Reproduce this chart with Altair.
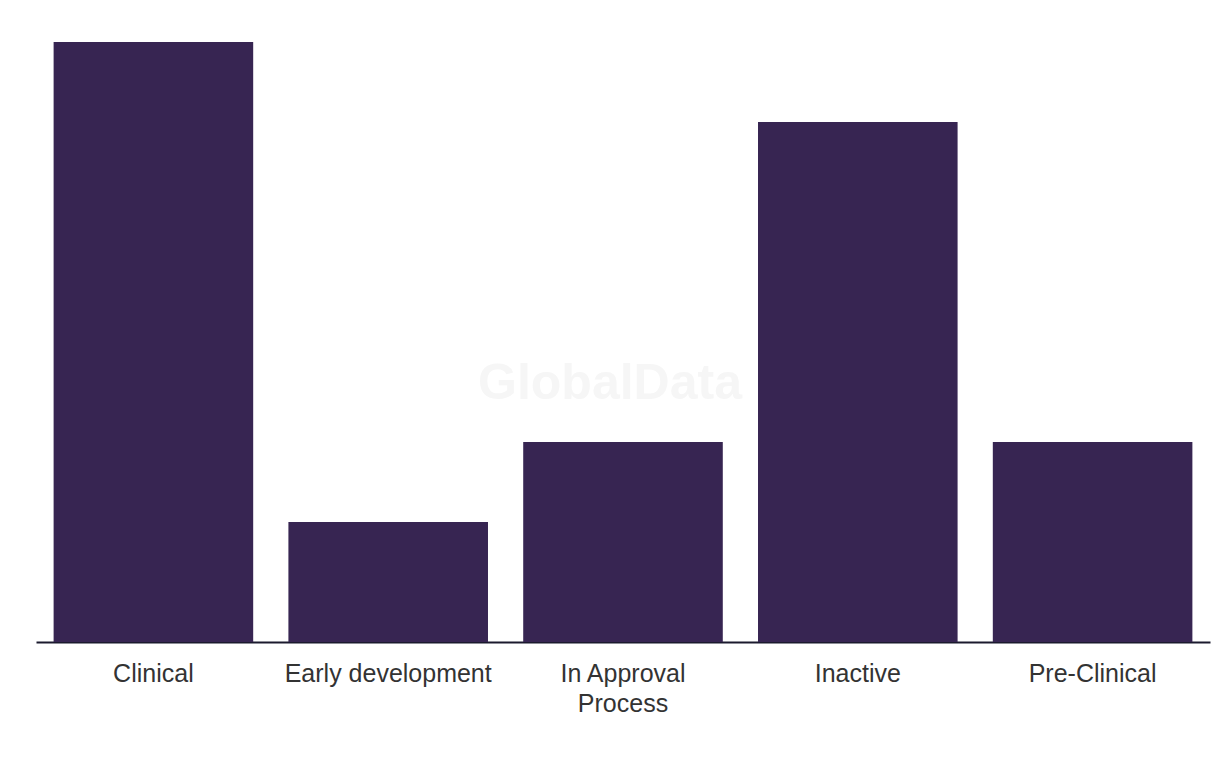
import altair as alt
import pandas as pd

categories = ["Clinical", "Early development", "In Approval Process", "Inactive", "Pre-Clinical"]
values = [15, 3, 5, 13, 5]

df = pd.DataFrame({"stage": categories, "count": values})

base = alt.Chart(df)

bars = base.mark_bar(color="#372552").encode(
    x=alt.X("stage:N", sort=categories,
            scale=alt.Scale(paddingInner=0.15, paddingOuter=0.075),
            axis=alt.Axis(title=None, labelAngle=0, ticks=False,
                          domainColor="#1b1a2e", domainWidth=2,
                          labelColor="#333333", labelFontSize=25,
                          labelFont="Liberation Sans", labelPadding=19,
                          labelLineHeight=30, labelLimit=0,
                          labelExpr="datum.value == 'In Approval Process' ? ['In Approval', 'Process'] : datum.value")),
    y=alt.Y("count:Q", scale=alt.Scale(domain=[0, 15], nice=False),
            axis=None),
)

wm = alt.Chart(pd.DataFrame({"t": ["GlobalData"]})).mark_text(
    fontSize=50, fontWeight="bold", font="Liberation Sans", color="#f6f6f6"
).encode(text="t:N", x=alt.value(574), y=alt.value(342))

chart = alt.layer(wm, bars).properties(
    width=1174, height=600,
    padding={"left": 28, "top": 34, "right": 2, "bottom": 110},
    autosize=alt.AutoSizeParams(type="none"),
).configure_view(stroke=None)

chart.save("out.html", embed_options={"renderer": "svg", "actions": False})
